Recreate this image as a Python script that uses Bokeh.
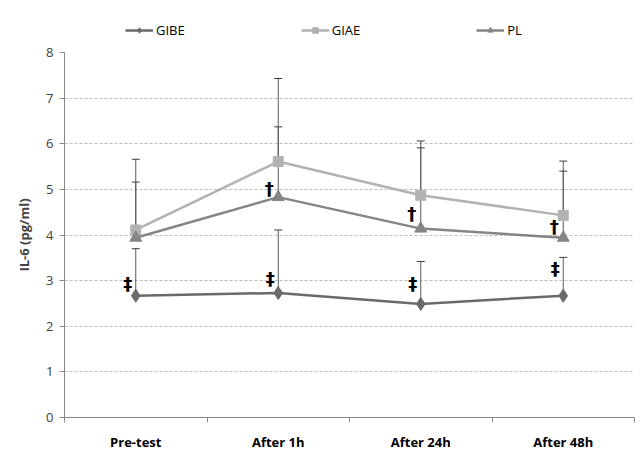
from bokeh.plotting import figure
from bokeh.layouts import column
from bokeh.models import (ColumnDataSource, Whisker, TeeHead, Legend, LegendItem,
                          FixedTicker, Range1d)
from bokeh.core.properties import value
from bokeh.embed import file_html
from bokeh.resources import INLINE

# ---- data ----
categories = ["Pre-test", "After 1h", "After 24h", "After 48h"]
gibe = [2.67, 2.73, 2.49, 2.67]
gibe_sd = [1.03, 1.38, 0.93, 0.84]
giae = [4.11, 5.61, 4.87, 4.43]
giae_sd = [1.55, 1.82, 1.19, 1.19]
pl = [3.94, 4.83, 4.14, 3.94]
pl_sd = [1.22, 1.54, 1.77, 1.46]

# significance marks
dagger_sym = ["†", "†", "†"]
dagger_cat = [2, 3, 4]
dagger_y = [5.02, 4.47, 4.19]
ddagger_sym = ["‡", "‡", "‡", "‡"]
ddagger_cat = [1, 2, 3, 4]
ddagger_y = [2.94, 3.05, 2.94, 3.26]

xs = list(range(1, len(categories) + 1))

FONT = "Open Sans"
C_GIBE = "#6a6a6a"
C_GIAE = "#b2b2b2"
C_PL = "#858585"

series = [("GIBE", gibe, gibe_sd, C_GIBE, "diamond", 13),
          ("GIAE", giae, giae_sd, C_GIAE, "square", 10),
          ("PL", pl, pl_sd, C_PL, "triangle", 12)]

# ---------------- main chart ----------------
p = figure(width=644, height=420, output_backend="svg", toolbar_location=None,
           x_range=Range1d(0.5, len(categories) + 0.5), y_range=Range1d(0, 8),
           min_border_left=64, min_border_right=10, min_border_top=12, min_border_bottom=43)
p.outline_line_color = None
p.background_fill_color = "white"

p.xgrid.grid_line_color = None
p.ygrid.grid_line_color = "#bdbdbd"
p.ygrid.grid_line_dash = "3 2"
p.ygrid.grid_line_width = 1

# x axis: ticks at category boundaries (minor), labels at centres
p.xaxis.ticker = FixedTicker(ticks=xs, minor_ticks=[i + 0.5 for i in range(0, len(categories) + 1)])
p.xaxis.major_label_overrides = {i: c for i, c in zip(xs, categories)}
p.xaxis.major_tick_line_color = None
p.xaxis.minor_tick_line_color = "#868686"
p.xaxis.minor_tick_out = 5
p.xaxis.minor_tick_in = 0
p.xaxis.axis_line_color = "#868686"
p.xaxis.major_label_text_font = FONT
p.xaxis.major_label_text_font_style = "bold"
p.xaxis.major_label_text_font_size = "13px"
p.xaxis.major_label_text_color = "#000000"
p.xaxis.major_label_standoff = 9

# y axis
p.yaxis.ticker = FixedTicker(ticks=list(range(0, 9)))
p.yaxis.minor_tick_line_color = None
p.yaxis.major_tick_out = 5
p.yaxis.major_tick_in = 0
p.yaxis.major_tick_line_color = "#868686"
p.yaxis.axis_line_color = "#868686"
p.yaxis.major_label_text_font = FONT
p.yaxis.major_label_text_font_size = "13px"
p.yaxis.major_label_text_color = "#404040"
p.yaxis.major_label_standoff = 6
p.yaxis.axis_label = "IL-6 (pg/ml)"
p.yaxis.axis_label_text_font = FONT
p.yaxis.axis_label_text_font_style = "bold"
p.yaxis.axis_label_text_font_size = "13px"
p.yaxis.axis_label_standoff = 10

# error bars (upper only) first, so markers sit on top
for name, vals, sd, col, mk, sz in series:
    src = ColumnDataSource(dict(x=xs, base=vals, upper=[v + s for v, s in zip(vals, sd)]))
    w = Whisker(source=src, base="x", lower="base", upper="upper", dimension="height",
                line_color="#5a5a5a", line_width=1,
                upper_head=TeeHead(size=8, line_color="#3a3a3a", line_width=1),
                lower_head=None)
    p.add_layout(w)

for name, vals, sd, col, mk, sz in series:
    src = ColumnDataSource(dict(x=xs, y=vals))
    p.line("x", "y", source=src, line_color=col, line_width=2.5)
    p.scatter("x", "y", source=src, marker=mk, size=sz, fill_color=col, line_color=col)

# significance symbols
dsrc = ColumnDataSource(dict(x=dagger_cat, y=dagger_y, t=dagger_sym))
p.text("x", "y", text="t", source=dsrc, x_offset=-9, text_align="center", text_baseline="middle",
       text_font=value("DejaVu Sans"), text_font_style="bold", text_font_size="18px",
       text_color="#000000")
ddsrc = ColumnDataSource(dict(x=ddagger_cat, y=ddagger_y, t=ddagger_sym))
p.text("x", "y", text="t", source=ddsrc, x_offset=-8, text_align="center", text_baseline="middle",
       text_font=value("DejaVu Sans"), text_font_style="bold", text_font_size="18px",
       text_color="#000000")

# ---------------- legend strip ----------------
# the strip's ranges lie outside the data, so only the legend itself shows
lg = figure(width=644, height=40, output_backend="svg", toolbar_location=None,
            x_range=Range1d(-20, -10), y_range=Range1d(-20, -10),
            min_border_left=64, min_border_right=10, min_border_top=0, min_border_bottom=0)
lg.axis.visible = False
lg.grid.visible = False
lg.outline_line_color = None

items = []
for name, vals, sd, col, mk, sz in series:
    src = ColumnDataSource(dict(x=xs, y=vals))
    ln = lg.line("x", "y", source=src, line_color=col, line_width=2.5)
    sc = lg.scatter("x", "y", source=src, marker=mk, size=sz - 2, fill_color=col, line_color=col)
    items.append(LegendItem(label=name, renderers=[ln, sc]))

legend = Legend(items=items, orientation="horizontal", location=(61, 1),
                glyph_width=28, glyph_height=14, label_standoff=3, spacing=116,
                label_text_font=FONT, label_text_font_size="13px", label_text_color="#000000",
                border_line_color=None, background_fill_alpha=0, padding=0, margin=0)
lg.add_layout(legend)

layout = column(lg, p, spacing=0)
open("out.html", "w").write(file_html(layout, INLINE))
